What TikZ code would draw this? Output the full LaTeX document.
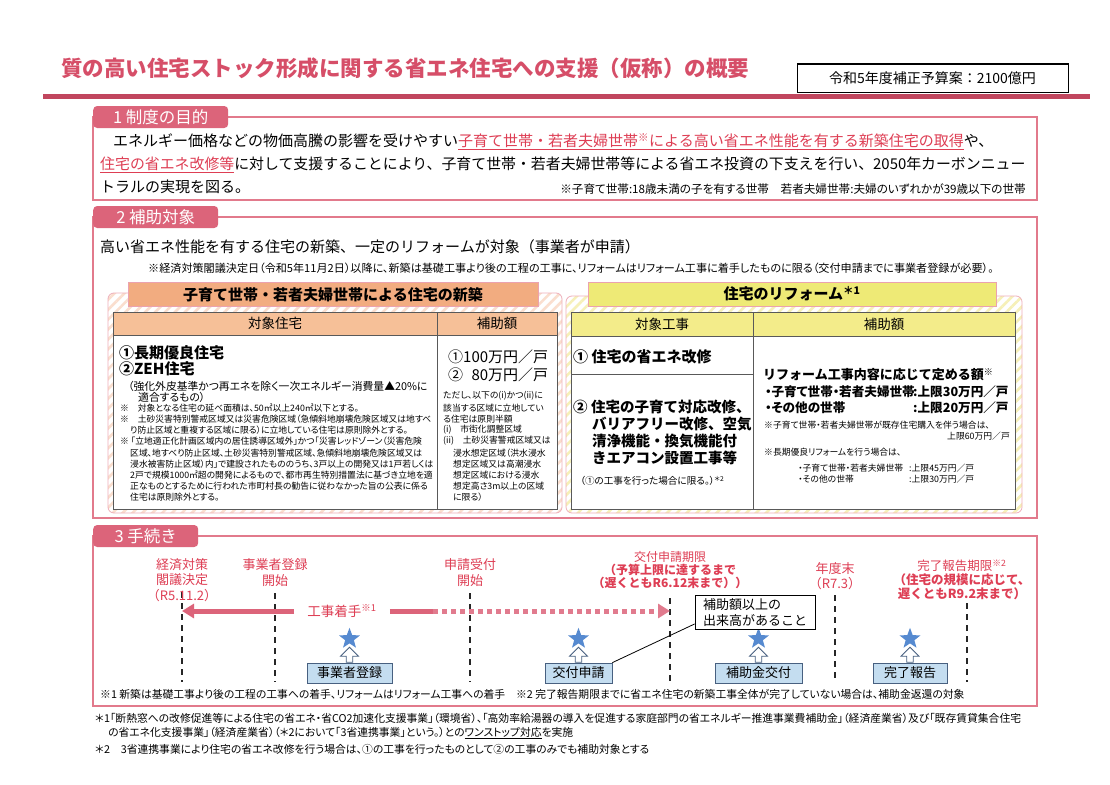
\documentclass[tikz,border=0pt]{standalone}
\usepackage{fontspec}
\setmainfont{Noto Sans CJK JP}
\newfontfamily\paltfont[RawFeature=+palt]{Noto Sans CJK JP}
\usetikzlibrary{positioning, shapes.geometric, shapes.arrows, patterns.meta, arrows.meta}

\definecolor{titlered}{RGB}{214,78,104}
\definecolor{tabpink}{RGB}{220,100,122}
\definecolor{framepink}{RGB}{226,122,140}
\definecolor{hilitered}{RGB}{222,62,84}
\definecolor{neworange}{RGB}{242,172,128}
\definecolor{newhead}{RGB}{246,192,152}
\definecolor{reformyellow}{RGB}{238,234,118}
\definecolor{reformhead}{RGB}{243,236,138}
\definecolor{hatchorange}{RGB}{250,222,206}
\definecolor{hatchyellow}{RGB}{246,240,184}
\definecolor{starblue}{RGB}{86,138,208}
\definecolor{stepblue}{RGB}{196,221,240}
\definecolor{stepline}{RGB}{72,96,128}

\begin{document}
\begin{tikzpicture}[x=1pt, y=-1pt,
    secframe/.style={draw=framepink, line width=2pt},
    tab/.style={anchor=west, rounded corners=4pt, fill=tabpink, text=white, minimum height=22pt, font=\fontsize{16.5}{18}\selectfont},
    body/.style={anchor=base west, inner sep=0pt, font=\fontsize{15}{17}\selectfont},
    note/.style={anchor=west, inner sep=0pt, font=\paltfont\fontsize{10.8}{12}\selectfont},
    small/.style={anchor=west, inner sep=0pt, font=\paltfont\fontsize{8.8}{10}\selectfont},
    bold/.style={anchor=west, inner sep=0pt, font=\fontsize{15}{17}\selectfont\bfseries},
    sumline/.style={anchor=west, inner sep=0pt, font=\paltfont\fontsize{12.6}{15}\selectfont\bfseries},
    panel/.style={draw=framepink!60, line width=0.8pt, rounded corners=6pt, pattern={Lines[angle=45, distance=7pt, line width=2.6pt]}},
    bar/.style={draw=framepink!70, line width=0.8pt, minimum height=24pt, font=\fontsize{15}{17}\selectfont\bfseries},
    headcell/.style={draw=black!65, line width=0.8pt, minimum height=23pt, font=\fontsize{13.5}{15}\selectfont},
    cell/.style={draw=black!65, line width=0.8pt, fill=white},
    event/.style={text=hilitered, align=center, inner sep=0pt, font=\fontsize{13}{15.5}\selectfont},
    starmark/.style={star, star points=5, star point ratio=2.4, fill=starblue, minimum size=22pt, inner sep=0pt},
    uparrow/.style={single arrow, shape border rotate=90, draw=stepline, fill=white, line width=0.8pt, minimum height=15pt, minimum width=18pt, single arrow head extend=5pt, inner sep=2.5pt},
    stepbox/.style={draw=stepline, fill=stepblue, line width=0.8pt, minimum height=20pt, font=\fontsize{13}{15}\selectfont},
    limit/.style={black!85, line width=1.2pt, dash pattern=on 6pt off 5pt},
    pinkarrow/.style={tabpink, line width=5pt, -{Triangle[length=12pt, width=14pt]}},
    pinkdots/.style={tabpink!85, line width=5pt, dash pattern=on 5pt off 4pt, -{Triangle[length=12pt, width=14pt]}}
]
\useasboundingbox (0,0) rectangle (1110,784);
\fill[white] (0,0) rectangle (1110,784);

% title
\node[anchor=west, inner sep=0pt, text=titlered, font=\fontsize{21.5}{24}\selectfont\bfseries] (title) at (61,68) {質の高い住宅ストック形成に関する省エネ住宅への支援（仮称）の概要};
\node[draw, line width=1pt, minimum width=271pt, minimum height=28pt, font=\fontsize{14}{16}\selectfont] (budget) at (932.5,78) {令和5年度補正予算案：2100億円};
\draw[line width=5pt, titlered!90!black] (43,96) -- (1090,96);

% 1 purpose
\draw[secframe] (93,117) rectangle (1037,200);
\node[tab, minimum width=135pt] (sec1) at (93,117) {1 制度の目的};
\node[body] (aim1) at (113,146.5) {エネルギー価格などの物価高騰の影響を受けやすい{\color{hilitered}\underline{子育て世帯・若者夫婦世帯\textsuperscript{※}による高い省エネ性能を有する新築住宅の取得}}や、};
\node[body, font=\fontsize{14.9}{17}\selectfont] (aim2) at (100,169.5) {{\color{hilitered}\underline{住宅の省エネ改修等}}に対して支援することにより、子育て世帯・若者夫婦世帯等による省エネ投資の下支えを行い、2050年カーボンニュー};
\node[body] (aim3) at (100,192.5) {トラルの実現を図る。};
\node[note, anchor=east, font=\paltfont\fontsize{11.6}{13}\selectfont] (aimnote) at (1026,189) {※子育て世帯:18歳未満の子を有する世帯\quad 若者夫婦世帯:夫婦のいずれかが39歳以下の世帯};

% 2 target
\draw[secframe] (93,217) rectangle (1037,518);
\node[tab, minimum width=125pt] (sec2) at (93,217) {2 補助対象};
\node[body, anchor=west] (target) at (100,247) {高い省エネ性能を有する住宅の新築、一定のリフォームが対象（事業者が申請）};
\node[note, font=\paltfont\fontsize{11.1}{13}\selectfont] (targetnote) at (148,268) {※経済対策閣議決定日（令和5年11月2日）以降に、新築は基礎工事より後の工程の工事に、リフォームはリフォーム工事に着手したものに限る（交付申請までに事業者登録が必要）。};

\draw[panel, pattern color=hatchorange] (108,293) rectangle (562,513);
\draw[panel, pattern color=hatchyellow] (566,296) rectangle (1022,513);
\node[bar, fill=neworange, minimum width=410pt] (newbar) at (333,294.5) {子育て世帯・若者夫婦世帯による住宅の新築};
\node[bar, fill=reformyellow, minimum width=408pt] (reformbar) at (792,294) {住宅のリフォーム\textsuperscript{＊1}};

% new-build table
\draw[cell] (113,335) rectangle (437,509);
\draw[cell] (437,335) rectangle (557,509);
\node[headcell, fill=newhead, minimum width=324pt] (colhouse) at (275,323.5) {対象住宅};
\node[headcell, fill=newhead, minimum width=120pt] (colnewsum) at (497,323.5) {補助額};
\node[bold] (long) at (119,353) {①長期優良住宅};
\node[bold] (zeh) at (119,369) {②ZEH住宅};
\node[small, font=\paltfont\fontsize{10.8}{12}\selectfont] (zehdef1) at (128,386) {（強化外皮基準かつ再エネを除く一次エネルギー消費量▲20\%に};
\node[small, font=\paltfont\fontsize{10.8}{12}\selectfont] (zehdef2) at (138,397) {適合するもの）};
\node[small] (area) at (120,408) {※\quad 対象となる住宅の延べ面積は、50㎡以上240㎡以下とする。};
\node[small] (exa1) at (120,419) {※\quad 土砂災害特別警戒区域又は災害危険区域（急傾斜地崩壊危険区域又は地すべ};
\node[small] (exa2) at (130,430) {り防止区域と重複する区域に限る）に立地している住宅は原則除外とする。};
\node[small] (exb1) at (120,441) {※ 「立地適正化計画区域内の居住誘導区域外」かつ「災害レッドゾーン（災害危険};
\node[small] (exb2) at (130,453) {区域、地すべり防止区域、土砂災害特別警戒区域、急傾斜地崩壊危険区域又は};
\node[small] (exb3) at (130,464) {浸水被害防止区域）内」で建設されたもののうち、3戸以上の開発又は1戸若しくは};
\node[small] (exb4) at (130,475) {2戸で規模1000㎡超の開発によるもので、都市再生特別措置法に基づき立地を適};
\node[small] (exb5) at (130,486) {正なものとするために行われた市町村長の勧告に従わなかった旨の公表に係る};
\node[small] (exb6) at (130,497) {住宅は原則除外とする。};
\node[body, anchor=west] (sum1) at (448,357) {①100万円／戸};
\node[body, anchor=west] (sum2) at (448,375) {②\phantom{1}80万円／戸};
\node[small] (half1) at (443,396) {ただし、以下の(i)かつ(ii)に};
\node[small] (half2) at (443,408) {該当する区域に立地してい};
\node[small] (half3) at (443,419) {る住宅は原則半額};
\node[small] (half4) at (443,430) {(i)\quad 市街化調整区域};
\node[small] (half5) at (443,441) {(ii)\quad 土砂災害警戒区域又は};
\node[small] (half6) at (453,453) {浸水想定区域（洪水浸水};
\node[small] (half7) at (453,464) {想定区域又は高潮浸水};
\node[small] (half8) at (453,475) {想定区域における浸水};
\node[small] (half9) at (453,486) {想定高さ3m以上の区域};
\node[small] (half10) at (453,497) {に限る）};

% reform table
\draw[cell] (571,336) rectangle (753,374);
\draw[cell] (571,374) rectangle (753,509);
\draw[cell] (753,336) rectangle (1015,509);
\node[headcell, fill=reformhead, minimum width=182pt, minimum height=24pt] (colwork) at (662,324) {対象工事};
\node[headcell, fill=reformhead, minimum width=262pt, minimum height=24pt] (colreformsum) at (884,324) {補助額};
\node[bold] (work1) at (573,357) {① 住宅の省エネ改修};
\node[bold, font=\fontsize{14.5}{17}\selectfont\bfseries, align=left, anchor=north west] (work2) at (573,400) {② 住宅の子育て対応改修、\\\hspace{1.3em}バリアフリー改修、空気\\\hspace{1.3em}清浄機能・換気機能付\\\hspace{1.3em}きエアコン設置工事等};
\node[small, font=\paltfont\fontsize{9.6}{11}\selectfont] (work2note) at (580,481) {（①の工事を行った場合に限る。）\textsuperscript{＊2}};
\node[bold, font=\fontsize{13}{16}\selectfont\bfseries] (reformsum) at (763,375) {リフォーム工事内容に応じて定める額\textsuperscript{※}};
\node[sumline] (young) at (765,392) {・子育て世帯・若者夫婦世帯};
\node[sumline] (youngsum) at (913,392) {:上限30万円／戸};
\node[sumline] (other) at (765,408) {・その他の世帯};
\node[sumline] (othersum) at (913,408) {:上限20万円／戸};
\node[small] (buy1) at (764,425) {※子育て世帯・若者夫婦世帯が既存住宅購入を伴う場合は、};
\node[small, anchor=east] (buy2) at (1010,436) {上限60万円／戸};
\node[small] (longref) at (764,452) {※長期優良リフォームを行う場合は、};
\node[small] (longyoung) at (798,468) {・子育て世帯・若者夫婦世帯};
\node[small] (longyoungsum) at (909,468) {:上限45万円／戸};
\node[small] (longother) at (798,479) {・その他の世帯};
\node[small] (longothersum) at (909,479) {:上限30万円／戸};

% 3 procedure
\draw[secframe] (93,536) rectangle (1037,706);
\node[tab, minimum width=105pt] (sec3) at (93,536) {3 手続き};

\foreach \name/\x/\t in {decide/182/592, regopen/275/593, appopen/470/593, applimit/670/598, fiscal/835/595, reportlimit/967/603} {
  \coordinate (\name top) at (\x,\t);
  \coordinate (\name bot) at (\x,682);
  \draw[limit] (\name top) -- (\name bot);
}

\node[event] (decidetxt) at (182,580) {経済対策\\閣議決定\\（R5.11.2）};
\node[event] (regopentxt) at (275,572.5) {事業者登録\\開始};
\node[event] (appopentxt) at (470,572.5) {申請受付\\開始};
\node[event, font=\fontsize{12}{13.2}\selectfont] (applimittxt) at (670,570) {交付申請期限\\\textbf{（予算上限に達するまで}\\\textbf{（遅くともR6.12末まで））}};
\node[event] (fiscaltxt) at (835,576) {年度末\\（R7.3）};
\node[event, font=\fontsize{12.5}{13.8}\selectfont] (reportlimittxt) at (962,580) {完了報告期限\textsuperscript{※2}\\\textbf{（住宅の規模に応じて、}\\\textbf{遅くともR9.2末まで）}};

% construction start
\node[event, inner xsep=13pt, font=\fontsize{13.5}{15}\selectfont] (kouji) at (342,611) {工事着手\textsuperscript{※1}};
\coordinate (arrowend) at (182,611);
\coordinate (dotstart) at (433,611);
\coordinate (dotend) at (670,611);
\draw[pinkarrow] (kouji.west) -- (arrowend);
\draw[tabpink, line width=5pt] (kouji.east) -- (dotstart);
\draw[pinkdots] (dotstart) -- (dotend);

% steps
\node[stepbox, minimum width=85pt] (reg) at (349.5,673) {事業者登録};
\node[stepbox, minimum width=67pt] (apply) at (578.5,673) {交付申請};
\node[stepbox, minimum width=87pt] (grant) at (758.5,673) {補助金交付};
\node[stepbox, minimum width=74pt] (report) at (910,673) {完了報告};
\foreach \s in {reg, apply, grant, report} {
  \node[uparrow, anchor=tail] (\s up) at (\s.north) {};
  \node[starmark, above=3pt of \s up.tip] (\s star) {};
}

\node[draw, fill=white, line width=0.8pt, align=left, minimum width=120pt, minimum height=31pt, font=\fontsize{13}{15.5}\selectfont] (yield) at (755,612.5) {補助額以上の\\出来高があること};
\draw[line width=0.8pt] ([yshift=6pt]yield.south west) -- (apply.north east);

% footnotes
\node[note] (fn1) at (100,694) {※1 新築は基礎工事より後の工程の工事への着手、リフォームはリフォーム工事への着手\quad ※2 完了報告期限までに省エネ住宅の新築工事全体が完了していない場合は、補助金返還の対象};
\node[note] (fna1) at (95,718) {＊1「断熱窓への改修促進等による住宅の省エネ・省CO2加速化支援事業」（環境省）、「高効率給湯器の導入を促進する家庭部門の省エネルギー推進事業費補助金」（経済産業省）及び「既存賃貸集合住宅};
\node[note] (fna2) at (108,733) {の省エネ化支援事業」（経済産業省）（＊2において「3省連携事業」という。）との\underline{ワンストップ対応}を実施};
\node[note] (fnb) at (95,749) {＊2\quad 3省連携事業により住宅の省エネ改修を行う場合は、①の工事を行ったものとして②の工事のみでも補助対象とする};

\end{tikzpicture}
\end{document}
